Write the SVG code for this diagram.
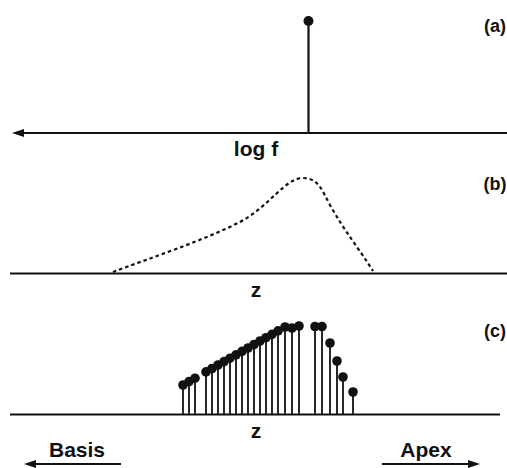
<svg xmlns="http://www.w3.org/2000/svg" width="507" height="468" viewBox="0 0 507 468">
<style>
.ax{stroke:#111;stroke-width:2.2;fill:none}
.st{stroke:#111;stroke-width:1.8}
.dot{fill:#111}
.lbl{font-family:"Liberation Sans",Arial,sans-serif;font-weight:bold;font-size:18px;fill:#111}
.big{font-size:21px}
.dash{stroke:#111;stroke-width:2.2;fill:none;stroke-dasharray:3.5 3}
</style>
<defs>
<marker id="arr" viewBox="0 0 12 8" refX="0" refY="4" markerWidth="12" markerHeight="8" markerUnits="userSpaceOnUse" orient="auto-start-reverse">
<path d="M0,0 L12,4 L0,8 Z" fill="#111"/>
</marker>
</defs>
<rect width="507" height="468" fill="#fff"/>
<g id="connectors">
<line class="ax" x1="507" y1="133" x2="24" y2="133" marker-end="url(#arr)"/>
<line class="ax" x1="10" y1="273.5" x2="507" y2="273.5"/>
<line class="ax" x1="10" y1="414.5" x2="500" y2="414.5"/>
<line class="ax" x1="121" y1="464" x2="36" y2="464" marker-end="url(#arr)"/>
<line class="ax" x1="382" y1="464" x2="468" y2="464" marker-end="url(#arr)"/>
</g>
<g id="panel-a">
<line class="ax" x1="308.5" y1="21" x2="308.5" y2="133"/>
<circle class="dot" cx="308.5" cy="21" r="5"/>
<text class="lbl" x="495" y="32" text-anchor="middle">(a)</text>
<text class="lbl big" x="256" y="156" text-anchor="middle">log f</text>
</g>
<g id="panel-b">
<path class="dash" d="M113,272 C150,258 200,242 240,222 C270,206 285,178 303,178 C318,178 322,190 330,205 C345,232 360,250 373,271"/>
<text class="lbl" x="495" y="190" text-anchor="middle">(b)</text>
<text class="lbl big" x="256" y="297" text-anchor="middle">z</text>
</g>
<g id="panel-c">
<g class="st">
<line x1="183" y1="385" x2="183" y2="414"/>
<line x1="189" y1="381.6" x2="189" y2="414"/>
<line x1="195" y1="378.2" x2="195" y2="414"/>
<line x1="206" y1="371.9" x2="206" y2="414"/>
<line x1="212" y1="368.5" x2="212" y2="414"/>
<line x1="218" y1="365" x2="218" y2="414"/>
<line x1="224" y1="361.6" x2="224" y2="414"/>
<line x1="230" y1="358.2" x2="230" y2="414"/>
<line x1="236" y1="354.8" x2="236" y2="414"/>
<line x1="242" y1="351.4" x2="242" y2="414"/>
<line x1="248" y1="348" x2="248" y2="414"/>
<line x1="254" y1="344.5" x2="254" y2="414"/>
<line x1="260" y1="341" x2="260" y2="414"/>
<line x1="266" y1="337.7" x2="266" y2="414"/>
<line x1="272" y1="334.3" x2="272" y2="414"/>
<line x1="278" y1="330.9" x2="278" y2="414"/>
<line x1="285" y1="327" x2="285" y2="414"/>
<line x1="292" y1="328" x2="292" y2="414"/>
<line x1="299" y1="326" x2="299" y2="414"/>
<line x1="315" y1="326.5" x2="315" y2="414"/>
<line x1="322" y1="326.5" x2="322" y2="414"/>
<line x1="330" y1="343" x2="330" y2="414"/>
<line x1="337" y1="361" x2="337" y2="414"/>
<line x1="343" y1="377" x2="343" y2="414"/>
<line x1="353" y1="392" x2="353" y2="414"/>
</g>
<g class="dot">
<circle cx="183" cy="385" r="4.8"/>
<circle cx="189" cy="381.6" r="4.8"/>
<circle cx="195" cy="378.2" r="4.8"/>
<circle cx="206" cy="371.9" r="4.8"/>
<circle cx="212" cy="368.5" r="4.8"/>
<circle cx="218" cy="365" r="4.8"/>
<circle cx="224" cy="361.6" r="4.8"/>
<circle cx="230" cy="358.2" r="4.8"/>
<circle cx="236" cy="354.8" r="4.8"/>
<circle cx="242" cy="351.4" r="4.8"/>
<circle cx="248" cy="348" r="4.8"/>
<circle cx="254" cy="344.5" r="4.8"/>
<circle cx="260" cy="341" r="4.8"/>
<circle cx="266" cy="337.7" r="4.8"/>
<circle cx="272" cy="334.3" r="4.8"/>
<circle cx="278" cy="330.9" r="4.8"/>
<circle cx="285" cy="327" r="4.8"/>
<circle cx="292" cy="328" r="4.8"/>
<circle cx="299" cy="326" r="4.8"/>
<circle cx="315" cy="326.5" r="4.8"/>
<circle cx="322" cy="326.5" r="4.8"/>
<circle cx="330" cy="343" r="4.8"/>
<circle cx="337" cy="361" r="4.8"/>
<circle cx="343" cy="377" r="4.8"/>
<circle cx="353" cy="392" r="4.8"/>
</g>
<text class="lbl" x="495" y="337" text-anchor="middle">(c)</text>
<text class="lbl big" x="256" y="438" text-anchor="middle">z</text>
</g>
<g id="labels">
<text class="lbl big" x="77" y="457" text-anchor="middle">Basis</text>
<text class="lbl big" x="426" y="457" text-anchor="middle">Apex</text>
</g>
</svg>
